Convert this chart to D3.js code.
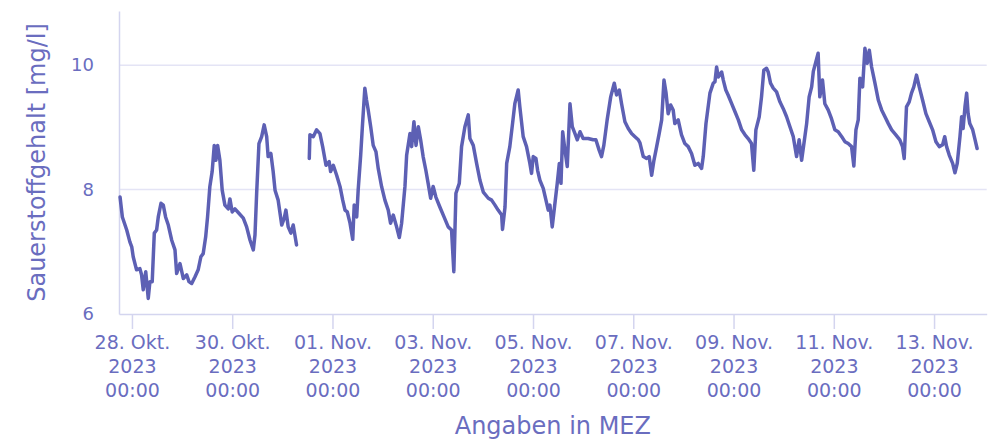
<!DOCTYPE html>
<html>
<head>
<meta charset="utf-8">
<script src="https://cdn.jsdelivr.net/npm/d3@7"></script>
<style>
  body { margin: 0; background: #fff; }
  svg { display: block; font-family: "DejaVu Sans", sans-serif; }
</style>
</head>
<body>
<div id="chart"></div>
<script>
// time base: 28. Okt. 2023 00:00 (MEZ, drawn as UTC so no DST shift)
const startDate = Date.UTC(2023, 9, 28);

// hours after startDate (null value = gap in the record)
const hours = [
  -5.7, -4.6, -2.5, -1.0, -0.1, 0.6, 2.2, 3.8, 4.6, 5.4, 6.6, 7.8, 8.6, 9.7, 10.7, 11.8,
  12.6, 13.9, 15.0, 16.1, 17.4, 19.0, 20.6, 21.4, 23.0, 24.6, 26.2, 27.3, 28.6, 30.2, 31.7,
  33.0, 34.1, 35.3, 36.2, 37.3, 38.4, 39.4, 40.2, 41.0, 42.1, 43.2, 44.5, 46.1, 46.9, 48.0,
  49.3, 51.2, 53.3, 54.9, 56.5, 58.1, 58.9, 59.7, 60.8, 62.1, 63.3, 64.5, 65.2, 66.5, 67.6,
  68.5, 70.0, 71.7, 72.9, 73.7, 74.8, 76.1, 77.2, 78.8,
  81.8,
  84.9, 85.2, 86.8, 88.4, 90.0, 91.3, 92.9, 94.4, 95.1, 96.4, 98.0, 99.6, 100.9, 102.0,
  103.1, 104.4, 105.7, 106.4, 107.6, 108.3, 109.5, 110.4, 111.5, 112.3, 113.1, 114.3, 115.5,
  116.8, 117.9, 119.5, 121.1, 122.7, 123.8, 125.1, 126.7, 128.0, 129.1, 130.7, 131.5, 133.1,
  133.9, 135.0, 136.0, 137.1, 138.2, 139.4, 140.7, 141.8, 143.0, 144.2, 145.5, 147.4, 149.4,
  151.4, 153.0, 154.1, 155.1, 156.7, 157.8, 159.4, 161.0, 161.8, 163.4, 165.0, 166.6, 168.2,
  170.6, 172.2, 173.8, 175.3, 177.0, 177.4, 178.6, 179.4, 180.9, 182.2, 183.3, 184.9, 185.7,
  187.3, 188.9, 190.5, 191.3, 192.1, 193.4, 194.2, 195.3, 196.9, 198.2, 199.3, 200.1, 201.2,
  202.5, 203.6, 204.6, 205.4, 206.2, 207.3, 208.4, 209.7, 210.8, 212.1, 213.2, 214.5, 216.0,
  218.4, 220.8, 222.1, 223.7, 224.8, 225.9, 227.5, 229.2, 230.9, 232.0, 233.3, 234.4, 236.0,
  237.6, 239.2, 240.8, 242.4, 243.2, 244.8, 246.4, 247.6, 248.8, 249.9, 251.2, 252.4, 253.6,
  254.7, 255.7, 256.7, 257.9, 259.1, 259.9, 261.5, 263.1, 264.7, 266.3, 267.9, 269.5, 271.1,
  272.7, 273.5, 274.8, 276.7, 278.3, 279.1, 279.9, 280.7, 282.3, 283.1, 284.3, 285.4, 287.1,
  288.7, 290.3, 291.9, 293.5, 295.0, 296.6, 297.7, 298.7, 300.3, 301.4, 302.5, 303.8, 304.6,
  305.7, 307.0, 308.6, 310.2, 311.8, 313.4, 315.0, 316.6, 318.2, 319.4, 320.6, 321.7, 323.0,
  324.2, 325.4, 326.2, 327.4, 328.5, 329.3, 330.6, 331.7, 333.3, 334.9, 336.5, 338.1, 339.8,
  341.3, 342.9, 344.5, 345.6, 346.6, 347.7, 348.5, 349.8, 350.9, 352.0, 353.0, 354.1, 355.7,
  357.3, 358.9, 360.5, 362.1, 363.7, 365.7, 367.6, 368.9, 369.7, 370.8, 372.1, 373.2, 374.3,
  375.6, 376.9, 378.5, 380.1, 381.7, 383.3, 384.9, 386.5, 388.1, 389.1, 390.0, 391.3, 392.9,
  394.0, 395.1, 396.4, 397.2, 397.9, 398.8, 399.6, 400.3, 401.1, 402.5, 403.5, 404.6
];

// Sauerstoffgehalt in mg/l
const oxygen = [
  7.88, 7.56, 7.35, 7.16, 7.08, 6.92, 6.71, 6.73, 6.63, 6.39, 6.68, 6.25, 6.52, 6.52, 7.30, 7.35,
  7.56, 7.78, 7.75, 7.56, 7.43, 7.19, 7.03, 6.65, 6.81, 6.57, 6.63, 6.52, 6.49, 6.60, 6.71,
  6.92, 6.97, 7.24, 7.56, 8.05, 8.29, 8.71, 8.47, 8.71, 8.47, 7.99, 7.75, 7.69, 7.85, 7.64,
  7.69, 7.62, 7.54, 7.40, 7.19, 7.03, 7.27, 7.94, 8.74, 8.85, 9.04, 8.85, 8.53, 8.58, 8.29,
  7.99, 7.83, 7.43, 7.54, 7.67, 7.40, 7.30, 7.43, 7.11,
  null,
  8.50, 8.88, 8.85, 8.96, 8.90, 8.69, 8.39, 8.45, 8.29, 8.39, 8.23, 8.05, 7.83, 7.67,
  7.64, 7.46, 7.20, 7.75, 7.56, 7.99, 8.55, 9.06, 9.63, 9.44, 9.28, 9.01, 8.71,
  8.61, 8.34, 8.05, 7.83, 7.67, 7.46, 7.59, 7.40, 7.23, 7.46, 8.05, 8.55, 8.90,
  8.69, 9.09, 8.71, 9.01, 8.80, 8.53, 8.31, 8.10, 7.86, 8.05, 7.88, 7.72, 7.56,
  7.40, 7.35, 6.68, 7.94, 8.10, 8.69, 9.01, 9.20, 8.82, 8.71, 8.42, 8.15, 7.96,
  7.86, 7.83, 7.75, 7.67, 7.59, 7.36, 7.72, 8.42, 8.69, 9.06, 9.38, 9.60, 9.33,
  8.85, 8.69, 8.42, 8.26, 8.53, 8.50, 8.31, 8.15, 8.02, 7.83, 7.67, 7.75, 7.40,
  7.78, 8.10, 8.42, 8.10, 8.93, 8.63, 8.37, 9.38, 9.01, 8.90, 8.80, 8.93, 8.82,
  8.82, 8.80, 8.80, 8.63, 8.53, 8.71, 9.12, 9.49, 9.71, 9.52, 9.60, 9.38, 9.09,
  8.98, 8.90, 8.85, 8.80, 8.75, 8.53, 8.50, 8.53, 8.23, 8.47, 8.69, 8.90, 9.12,
  9.76, 9.55, 9.22, 9.36, 9.28, 9.06, 9.12, 8.88, 8.74, 8.69, 8.58, 8.39, 8.42,
  8.34, 8.53, 9.06, 9.55, 9.71, 9.73, 9.97, 9.81, 9.89, 9.76, 9.60, 9.52, 9.38,
  9.25, 9.12, 8.96, 8.88, 8.82, 8.74, 8.31, 8.96, 9.17, 9.49, 9.92, 9.95, 9.89,
  9.71, 9.63, 9.57, 9.41, 9.30, 9.17, 9.01, 8.85, 8.53, 8.80, 8.47, 8.74, 9.06,
  9.49, 9.65, 9.90, 10.05, 10.19, 9.49, 9.76, 9.38, 9.28, 9.14, 8.96, 8.93, 8.85,
  8.77, 8.74, 8.69, 8.38, 8.96, 9.12, 9.79, 9.65, 10.27, 10.03, 10.24, 9.97, 9.71,
  9.44, 9.28, 9.17, 9.06, 8.96, 8.88, 8.80, 8.69, 8.50, 9.33, 9.41, 9.55, 9.65,
  9.84, 9.65, 9.44, 9.22, 9.09, 8.96, 8.77, 8.69, 8.72, 8.85, 8.69, 8.55, 8.42,
  8.27, 8.42, 8.85, 9.17, 8.98, 9.33, 9.55, 9.22, 9.06, 8.96, 8.82, 8.66
];

const yTicks = [6, 8, 10];
const tickDays = [0, 2, 4, 6, 8, 10, 12, 14, 16]; // days after startDate
const monthNames = ["Jan.", "Feb.", "März", "Apr.", "Mai", "Juni", "Juli", "Aug.", "Sep.", "Okt.", "Nov.", "Dez."];
const yTitle = "Sauerstoffgehalt [mg/l]";
const xTitle = "Angaben in MEZ";

const width = 997, height = 439;
const margin = { top: 11, right: 10.3, bottom: 125, left: 119 };
const innerW = width - margin.left - margin.right;
const innerH = height - margin.top - margin.bottom;

const lineColor = "#5d60b4";
const textColor = "#6a6dbf";
const gridColor = "#e4e4f5";
const axisColor = "#d4d5ef";

const hour = 3600 * 1000;
const data = hours.map((h, i) => ({ date: new Date(startDate + h * hour), value: oxygen[i] }));

const svg = d3.select("#chart")
  .append("svg")
  .attr("width", width)
  .attr("height", height);

const g = svg.append("g")
  .attr("transform", `translate(${margin.left},${margin.top})`);

const x = d3.scaleUtc()
  .domain([new Date(startDate - 6.2 * hour), new Date(startDate + 409.2 * hour)])
  .range([0, innerW]);

const y = d3.scaleLinear()
  .domain([6, 10.87])
  .range([innerH, 0]);

// gridlines
g.append("g")
  .selectAll("line")
  .data(yTicks.filter(d => d > 6))
  .join("line")
  .attr("x1", 0)
  .attr("x2", innerW)
  .attr("y1", d => y(d))
  .attr("y2", d => y(d))
  .attr("stroke", gridColor)
  .attr("stroke-width", 1.5);

// y axis
const yAxis = g.append("g")
  .call(d3.axisLeft(y).tickValues(yTicks).tickSize(0).tickPadding(25).tickFormat(d3.format("d")));
yAxis.select(".domain").attr("stroke", axisColor).attr("stroke-width", 1.5);
yAxis.selectAll("text")
  .attr("fill", textColor)
  .style("font-size", "18px")
  .style("font-family", "DejaVu Sans");

// x axis
const fmtDay = d3.utcFormat("%d");
const xAxis = g.append("g")
  .attr("transform", `translate(0,${innerH})`)
  .call(d3.axisBottom(x)
    .tickValues(tickDays.map(d => new Date(startDate + d * 24 * hour)))
    .tickSize(15)
    .tickSizeOuter(0)
    .tickFormat(() => ""));
xAxis.select(".domain").attr("stroke", axisColor).attr("stroke-width", 1.5);
xAxis.selectAll(".tick line").attr("stroke", axisColor).attr("stroke-width", 1.5);
xAxis.selectAll(".tick text").remove();
xAxis.selectAll(".tick")
  .append("text")
  .attr("fill", textColor)
  .attr("text-anchor", "middle")
  .style("font-size", "19px")
  .style("font-family", "DejaVu Sans")
  .selectAll("tspan")
  .data(d => [`${fmtDay(d)}. ${monthNames[d.getUTCMonth()]}`, d3.utcFormat("%Y")(d), d3.utcFormat("%H:%M")(d)])
  .join("tspan")
  .attr("x", 0)
  .attr("y", (d, i) => 34.5 + i * 24)
  .text(d => d);

// line
const line = d3.line()
  .defined(d => d.value != null)
  .x(d => x(d.date))
  .y(d => y(d.value));

g.append("path")
  .datum(data)
  .attr("fill", "none")
  .attr("stroke", lineColor)
  .attr("stroke-width", 3.5)
  .attr("stroke-linejoin", "round")
  .attr("stroke-linecap", "round")
  .attr("d", line);

// titles
svg.append("text")
  .attr("transform", `translate(45,${margin.top + innerH / 2}) rotate(-90)`)
  .attr("text-anchor", "middle")
  .attr("fill", textColor)
  .style("font-size", "24px")
  .text(yTitle);

svg.append("text")
  .attr("x", margin.left + innerW / 2)
  .attr("y", 434)
  .attr("text-anchor", "middle")
  .attr("fill", textColor)
  .style("font-size", "24px")
  .text(xTitle);
</script>
</body>
</html>
